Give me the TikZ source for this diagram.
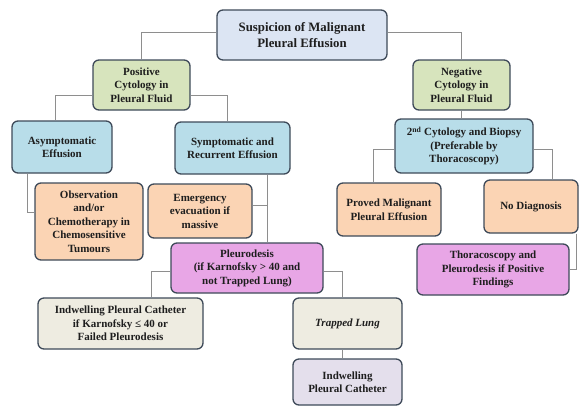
\documentclass[tikz,border=0pt]{standalone}
\usepackage{fontspec}
\setmainfont{Liberation Serif}[BoldFont={Liberation Serif Bold}, ItalicFont={Liberation Serif Italic}, BoldItalicFont={Liberation Serif Bold Italic}]
\definecolor{cTop}{HTML}{DCE5F3}
\definecolor{cGreen}{HTML}{D7E4BD}
\definecolor{cBlue}{HTML}{B8DDE9}
\definecolor{cPeach}{HTML}{FBD4B4}
\definecolor{cPink}{HTML}{E8A6E6}
\definecolor{cBeige}{HTML}{EEECE1}
\definecolor{cLav}{HTML}{E4DFEC}
\definecolor{cBorder}{HTML}{3E4A59}
\definecolor{cLine}{HTML}{8E8E8E}
\definecolor{cText}{HTML}{1E1E1E}
\begin{document}
\begin{tikzpicture}[x=1pt,y=-1pt,
  box/.style={draw=cBorder, line width=1.3pt, rounded corners=6pt, align=center,
    text=cText, font=\fontsize{11}{13.5}\selectfont\bfseries, inner sep=2pt},
  conn/.style={draw=cLine, line width=1pt}]
\useasboundingbox (0,0) rectangle (580,408);
\node[box, fill=cTop, minimum width=170pt, minimum height=50pt,
  font=\fontsize{12.8}{15.5}\selectfont\bfseries] (top) at (302,35) {Suspicion of Malignant\\Pleural Effusion};
\node[box, fill=cGreen, minimum width=97pt, minimum height=50pt] (pos) at (141.5,85) {Positive\\Cytology in\\Pleural Fluid};
\node[box, fill=cGreen, minimum width=97pt, minimum height=50pt] (neg) at (461.5,85) {Negative\\Cytology in\\Pleural Fluid};
\node[box, fill=cBlue, minimum width=100pt, minimum height=52pt] (asym) at (62,147) {Asymptomatic\\Effusion};
\node[box, fill=cBlue, minimum width=115pt, minimum height=52pt] (symp) at (232.5,148) {Symptomatic and\\Recurrent Effusion};
\node[box, fill=cPeach, minimum width=108pt, minimum height=77pt] (obs) at (89,221.5) {Observation\\and/or\\Chemotherapy in\\Chemosensitive\\Tumours};
\node[box, fill=cPeach, minimum width=104pt, minimum height=54pt] (emerg) at (200,211) {Emergency\\evacuation if\\massive};
\node[box, fill=cPink, minimum width=152pt, minimum height=50pt] (pleu) at (247,268) {Pleurodesis\\(if Karnofsky > 40 and\\not Trapped Lung)};
\node[box, fill=cBeige, minimum width=165pt, minimum height=51pt] (ind) at (120.5,323.5) {Indwelling Pleural Catheter\\if Karnofsky ≤ 40 or\\Failed Pleurodesis};
\node[box, fill=cBeige, minimum width=109pt, minimum height=51pt,
  font=\fontsize{11}{13.5}\selectfont\bfseries\itshape] (trap) at (347.5,323.5) {Trapped Lung};
\node[box, fill=cLav, minimum width=109pt, minimum height=46pt] (ind2) at (347.5,382) {Indwelling\\Pleural Catheter};
\node[box, fill=cBlue, minimum width=138pt, minimum height=54pt] (cyt) at (464,146) {2\textsuperscript{nd} Cytology and Biopsy\\(Preferable by\\Thoracoscopy)};
\node[box, fill=cPeach, minimum width=104pt, minimum height=53pt] (proved) at (389,209.5) {Proved Malignant\\Pleural Effusion};
\node[box, fill=cPeach, minimum width=94pt, minimum height=53pt] (nodiag) at (531,206.5) {No Diagnosis};
\node[box, fill=cPink, minimum width=152pt, minimum height=51pt] (thor) at (493,269.5) {Thoracoscopy and\\Pleurodesis if Positive\\Findings};

% connectors
\draw[conn] ([yshift=3pt]top.west) -| (pos.north);
\draw[conn] ([yshift=3pt]top.east) -| (neg.north);
\draw[conn] ([yshift=-10pt]pos.west) -| ([xshift=-7pt]asym.north);
\draw[conn] ([yshift=-10pt]pos.east) -| ([xshift=-5pt]symp.north);
\draw[conn] ([xshift=-35pt]asym.south) |- ([yshift=9.5pt]obs.west);
\draw[conn] ([xshift=34.5pt]symp.south) -- ([xshift=34.5pt]symp.south |- pleu.north);
\draw[conn] ([yshift=6pt]emerg.east) -| ([xshift=34.5pt]symp.south);
\draw[conn] ([yshift=-3pt]pleu.west) -| ([xshift=30.5pt]ind.north);
\draw[conn] ([yshift=-3pt]pleu.east) -| ([xshift=-5.5pt]trap.north);
\draw[conn] ([xshift=-5.5pt]trap.south) -- ([xshift=-5.5pt]ind2.north);
\draw[conn] (neg.south) -- (neg.south |- cyt.north);
\draw[conn] ([yshift=-3pt]cyt.west) -| ([xshift=-16pt]proved.north);
\draw[conn] ([yshift=-3pt]cyt.east) -| ([xshift=21pt]nodiag.north);
\draw[conn] ([xshift=45pt]nodiag.south) |- (thor.east);
\end{tikzpicture}
\end{document}
